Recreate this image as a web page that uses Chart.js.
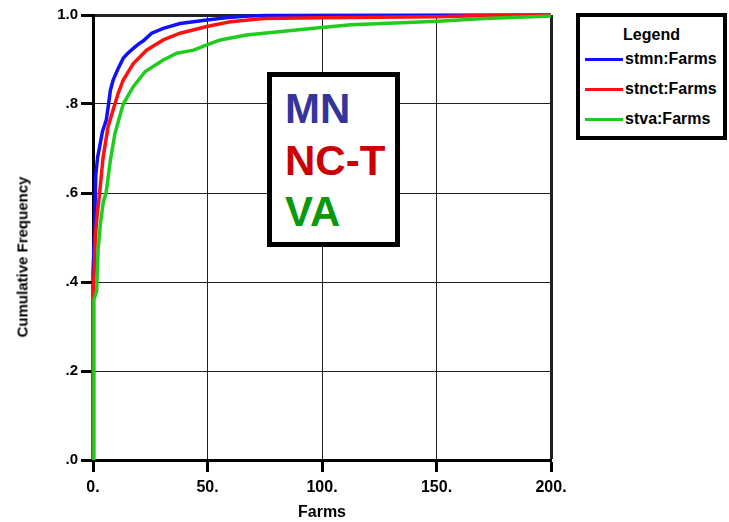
<!DOCTYPE html>
<html>
<head>
<meta charset="utf-8">
<script src="https://cdn.jsdelivr.net/npm/chart.js@4"></script>
<style>
  body { margin: 0; background: #fff; }
  #wrap { position: relative; width: 729px; height: 522px; font-family: "Liberation Sans", Arial, sans-serif; }
  #ytitle {
    position: absolute; left: 22px; top: 257px; white-space: nowrap;
    transform: translate(-50%, -50%) rotate(-90deg);
    font: bold 15px "Liberation Sans", Arial, sans-serif; color: #000;
  }
  #tag {
    position: absolute; left: 267px; top: 72px; width: 123px; height: 165px;
    border: 5px solid #000; background: #fff; box-sizing: content-box;
    font: bold 42px "Liberation Sans", Arial, sans-serif; line-height: 51.6px;
    padding: 0; 
  }
  #tag div { position: absolute; left: 13px; white-space: nowrap; }
  #legend {
    position: absolute; left: 576px; top: 13px; width: 143px; height: 119px;
    border: 4px solid #000; background: #fff;
    font: bold 16px "Liberation Sans", Arial, sans-serif; color: #000;
  }
  #legend .title { position: absolute; left: 0; width: 100%; top: 10px; text-align: center; line-height: 16px; }
  #legend .row { position: absolute; left: 5px; height: 30px; display: flex; align-items: center; white-space: nowrap; }
  #legend .swatch { width: 38px; height: 3px; margin-right: 2px; }
</style>
</head>
<body>
<div id="wrap">
  <canvas id="chart" width="729" height="522"></canvas>
  <div id="ytitle">Cumulative Frequency</div>
  <div id="tag">
    <div style="top:6px;color:#34349a">MN</div>
    <div style="top:57.6px;color:#cc0000">NC-T</div>
    <div style="top:109.2px;color:#0a990a">VA</div>
  </div>
  <div id="legend"><div class="title">Legend</div></div>
</div>
<script>
// Curvas de frecuencia acumulada
const mnFarms = [0, 0, 0.6, 1.2, 2, 2.9, 4.1, 5.8, 6.8, 7.6, 8.8, 11, 13.2, 15, 17.6, 20, 22, 25.6, 30.7, 38, 49.7, 58, 66, 75, 200];
const mnFreq  = [0, 0.42, 0.5, 0.64, 0.68, 0.704, 0.738, 0.764, 0.8, 0.831, 0.854, 0.88, 0.903, 0.913, 0.925, 0.935, 0.942, 0.959, 0.97, 0.981, 0.989, 0.994, 0.997, 0.999, 1.0];

const nctFarms = [0, 0, 0.5, 1, 1.8, 2.9, 4.4, 6.6, 8.8, 11, 13.2, 17.6, 23.4, 30.7, 38, 49.7, 60, 74.6, 100, 150, 172, 200];
const nctFreq  = [0, 0.36, 0.42, 0.5, 0.55, 0.6, 0.68, 0.749, 0.787, 0.824, 0.854, 0.891, 0.921, 0.944, 0.959, 0.974, 0.985, 0.992, 0.994, 0.996, 0.999, 1.0];

const vaFarms = [0.4, 0.4, 1.6, 2.2, 3.2, 4.5, 5.7, 7.6, 9.6, 13.2, 17.6, 22.8, 30.7, 36.6, 43.9, 49.7, 55.6, 67, 80, 96.5, 112.7, 150.6, 171, 200];
const vaFreq  = [0, 0.36, 0.38, 0.47, 0.53, 0.58, 0.6, 0.674, 0.734, 0.8, 0.839, 0.873, 0.899, 0.914, 0.921, 0.933, 0.944, 0.955, 0.962, 0.97, 0.978, 0.986, 0.992, 0.998];

const seriesNames = ['stmn:Farms', 'stnct:Farms', 'stva:Farms'];
const seriesColors = ['#1010ff', '#ff1010', '#1ecc1e'];
const xTicks = [0, 50, 100, 150, 200];
const yTicks = [0, 0.2, 0.4, 0.6, 0.8, 1.0];

// Helper: junta x e y en puntos
function toPoints(xs, ys) {
    return xs.map((x, i) => ({ x: x, y: ys[i] }));
}

const datasets = [
    { label: seriesNames[0], data: toPoints(mnFarms, mnFreq), order: 2 },
    { label: seriesNames[1], data: toPoints(nctFarms, nctFreq), order: 1 },
    { label: seriesNames[2], data: toPoints(vaFarms, vaFreq), order: 0 }
].map((ds, i) => Object.assign(ds, {
    borderColor: seriesColors[i],
    borderWidth: 3.5,
    pointRadius: 0,
    tension: 0,
    fill: false,
    clip: false
}));

const tickFont = { family: '"Liberation Sans", Arial, sans-serif', weight: 'bold', size: 15 };

new Chart(document.getElementById('chart'), {
    type: 'line',
    data: { datasets: datasets },
    options: {
        responsive: false,
        animation: false,
        layout: { padding: { left: 0, top: 15, right: 178, bottom: 0 } },
        plugins: { legend: { display: false }, tooltip: { enabled: false } },
        scales: {
            x: {
                type: 'linear',
                min: xTicks[0],
                max: xTicks[xTicks.length - 1],
                afterBuildTicks: s => { s.ticks = xTicks.map(v => ({ value: v })); },
                afterFit: s => { s.height = 62; },
                ticks: {
                    color: '#000', font: Object.assign({}, tickFont, { size: 16 }), padding: 6,
                    maxRotation: 0, autoSkip: false,
                    callback: v => v + '.'
                },
                grid: {
                    color: '#222',
                    lineWidth: c => (c.tick && c.tick.value === 200 ? 3 : 1),
                    tickLength: 12, tickWidth: 3, tickColor: '#000'
                },
                border: { color: '#000', width: 3 },
                title: {
                    display: true, text: 'Farms', color: '#000',
                    font: { family: '"Liberation Sans", Arial, sans-serif', weight: 'bold', size: 16 },
                    padding: { top: 0, bottom: 0 }
                }
            },
            y: {
                type: 'linear',
                min: yTicks[0],
                max: yTicks[yTicks.length - 1],
                afterBuildTicks: s => { s.ticks = yTicks.map(v => ({ value: v })); },
                afterFit: s => { s.width = 93; },
                ticks: {
                    color: '#000', font: tickFont, padding: 3,
                    callback: v => (v >= 1 ? v.toFixed(1) : v.toFixed(1).replace(/^0/, ''))
                },
                grid: {
                    color: '#222',
                    lineWidth: c => (c.tick && c.tick.value === 1 ? 3 : 1),
                    tickLength: 12, tickWidth: 3, tickColor: '#000'
                },
                border: { color: '#000', width: 3 }
            }
        }
    }
});

// Leyenda en HTML, con los mismos colores de las series
const legendBox = document.getElementById('legend');
seriesNames.forEach((name, i) => {
    const row = document.createElement('div');
    row.className = 'row';
    row.style.top = (27 + i * 30) + 'px';
    row.innerHTML = `<span class="swatch" style="background:${seriesColors[i]}"></span><span>${name}</span>`;
    legendBox.appendChild(row);
});
</script>
</body>
</html>
